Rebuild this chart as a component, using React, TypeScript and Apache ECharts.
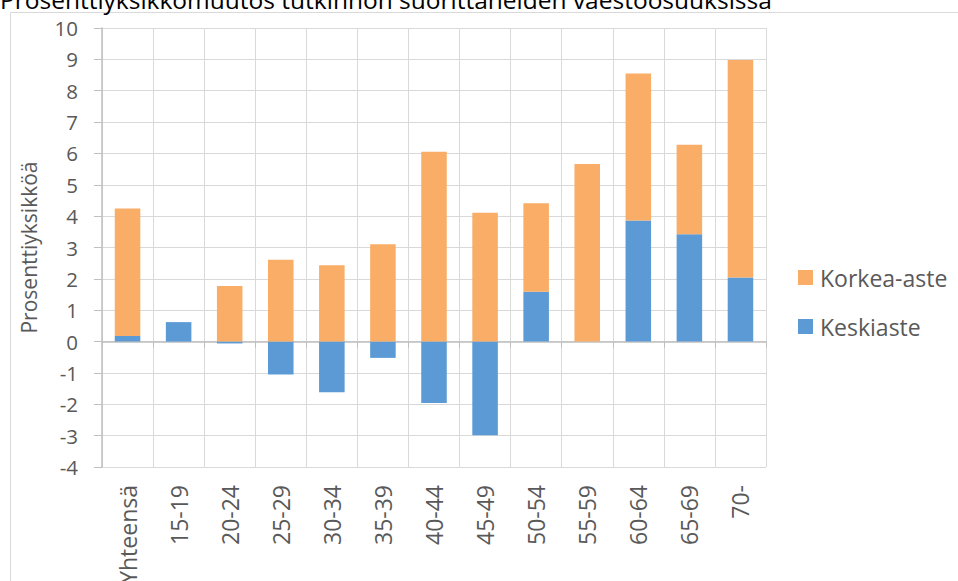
import React, { useEffect, useRef } from "react";
import * as echarts from "echarts";

const TITLE = "Prosenttiyksikkömuutos tutkinnon suorittaneiden väestöosuuksissa";
const Y_NAME = "Prosenttiyksikköä";
const categories = ["Yhteensä", "15-19", "20-24", "25-29", "30-34", "35-39", "40-44", "45-49", "50-54", "55-59", "60-64", "65-69", "70-"];
const keskiaste = [0.18, 0.62, -0.06, -1.05, -1.62, -0.52, -1.96, -2.99, 1.59, 0, 3.86, 3.42, 2.04];
const korkeaAste = [4.06, 0, 1.77, 2.61, 2.43, 3.1, 6.05, 4.11, 2.82, 5.66, 4.69, 2.86, 6.94];
const yTicks = { min: -4, max: 10, interval: 1 };

const FONT = "'Open Sans', 'Noto Sans', sans-serif";
const GREY = "#595959";

export default function App() {
  const ref = useRef<HTMLDivElement>(null);
  useEffect(() => {
    document.body.style.margin = "0";
    document.body.style.overflow = "hidden";
    document.documentElement.style.overflow = "hidden";
    const chart = echarts.init(ref.current!, null, { renderer: "svg" });
    chart.setOption({
      animation: false,
      textStyle: { fontFamily: FONT },
      graphic: [
        {
          type: "rect",
          shape: { x: 10.5, y: 12.5, width: 1000, height: 1000 },
          style: { fill: "none", stroke: "#d9d9d9", lineWidth: 1 },
          silent: true,
        },
        {
          type: "text",
          x: 0,
          y: -13,
          style: { text: TITLE, fontSize: 24.5, fill: "#000", fontFamily: FONT },
        },
      ],
      grid: {
        left: 102,
        right: 192,
        top: 28,
        bottom: 114,
        containLabel: false,
        outerBoundsMode: "none",
      },
      legend: {
        orient: "vertical",
        left: 793,
        top: 261,
        itemWidth: 15,
        itemHeight: 15,
        itemGap: 26,
        icon: "rect",
        data: ["Korkea-aste", "Keskiaste"],
        textStyle: { fontSize: 23, color: GREY, fontFamily: FONT, padding: [0, 0, 0, 2] },
      },
      xAxis: {
        type: "category",
        data: categories,
        axisLine: { onZero: true, lineStyle: { color: "#bfbfbf", width: 1.5 } },
        axisTick: { show: true, length: 6, lineStyle: { color: "#bfbfbf" } },
        splitLine: { show: true, lineStyle: { color: "#d9d9d9", width: 1 } },
        axisLabel: {
          rotate: 90,
          color: GREY,
          fontSize: 23,
          fontFamily: FONT,
          interval: 0,
          margin: 18,
        },
      },
      yAxis: {
        type: "value",
        min: yTicks.min,
        max: yTicks.max,
        interval: yTicks.interval,
        name: Y_NAME,
        nameLocation: "middle",
        nameGap: 63,
        nameTextStyle: { fontSize: 21, color: GREY, fontFamily: FONT },
        axisLine: { show: true, lineStyle: { color: "#bfbfbf", width: 1.5 } },
        axisTick: { show: true, length: 8, lineStyle: { color: "#bfbfbf" } },
        splitLine: { show: true, lineStyle: { color: "#d9d9d9", width: 1 } },
        axisLabel: { color: GREY, fontSize: 20.5, fontFamily: FONT, margin: 24 },
      },
      series: [
        {
          name: "Keskiaste",
          type: "bar",
          stack: "total",
          data: keskiaste,
          barWidth: "50%",
          itemStyle: { color: "#5B9AD5" },
        },
        {
          name: "Korkea-aste",
          type: "bar",
          stack: "total",
          data: korkeaAste,
          barWidth: "50%",
          itemStyle: { color: "#F9AD67" },
        },
      ],
    });
    return () => chart.dispose();
  }, []);
  return (
    <div style={{ width: 958, height: 581, overflow: "hidden" }}>
      <div ref={ref} style={{ width: 958, height: 581 }} />
    </div>
  );
}
